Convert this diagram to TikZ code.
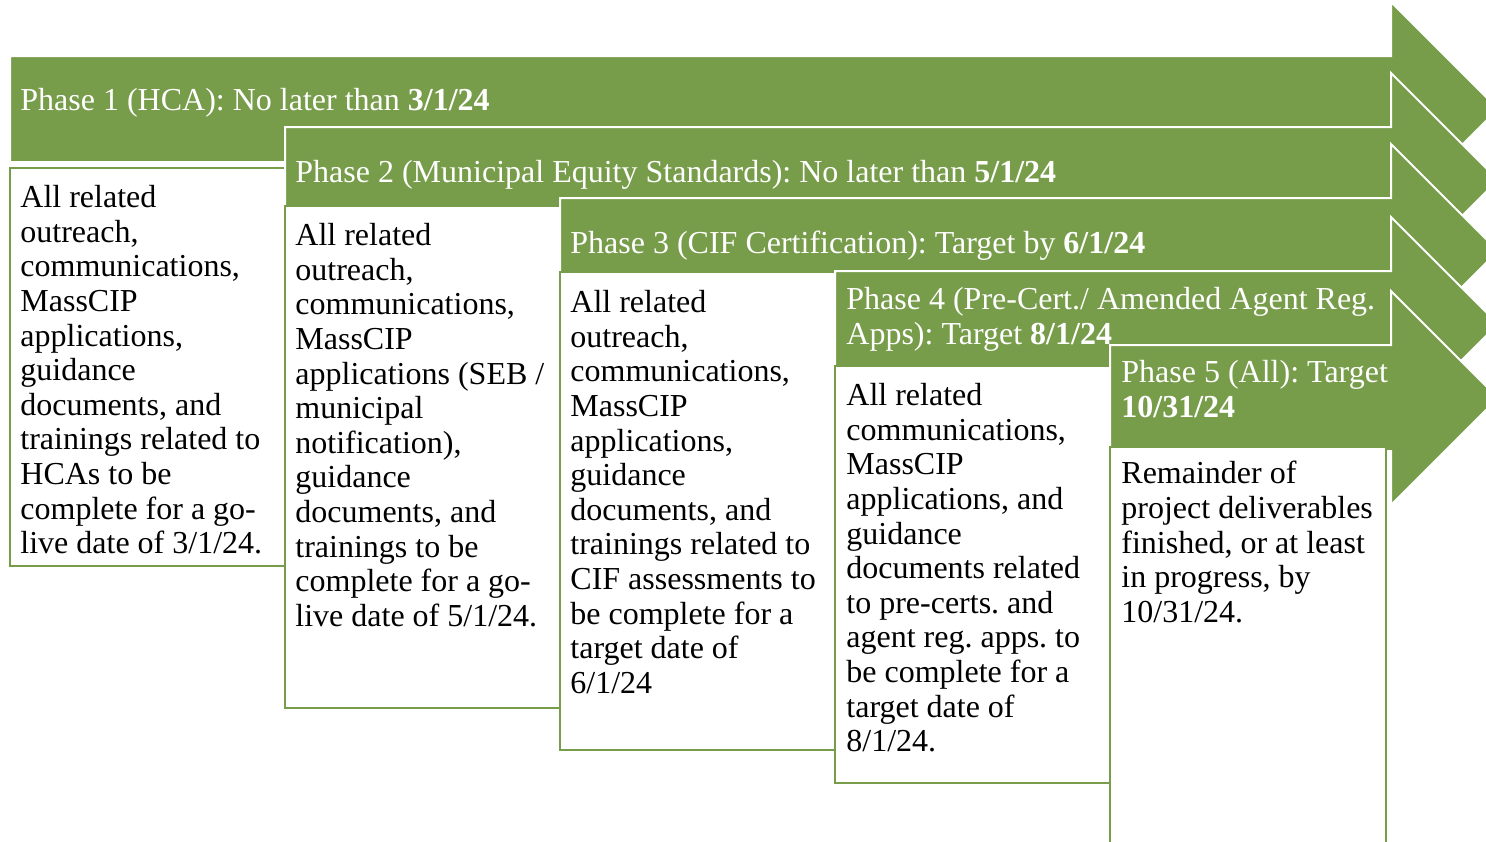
\documentclass[tikz,border=0pt]{standalone}
\usepackage{fontspec}
\setmainfont{Liberation Serif}
\frenchspacing
\definecolor{phasegreen}{RGB}{119,156,74}

\begin{document}
\begin{tikzpicture}[x=0.5pt, y=-0.5pt,
    phasearrow/.style={fill=phasegreen, draw=white, line width=1pt},
    phasebox/.style={fill=white, draw=phasegreen, line width=1.3pt},
    headtext/.style={anchor=north west, inner sep=0pt, align=left, text=white, font=\fontsize{16}{17.3}\selectfont},
    bodytext/.style={anchor=north west, inner sep=0pt, align=left, text=black, font=\fontsize{16}{17.3}\selectfont}]
    \useasboundingbox (0,0) rectangle (1486,841);
    \foreach \lx/\ty/\by/\rx/\bb in {10/56/168/285/566, 285/127/206/560/708, 560/198/272/835/750, 835/271/366/1110/783, 1110/345/447/1386/860} {
        \filldraw[phasearrow] (\lx,\ty) -- (1391,\ty) -- (1391,\ty-54) -- (1498,\ty+53) -- (1391,\ty+160) -- (1391,\ty+106) -- (\lx,\ty+106) -- cycle;
        \filldraw[phasebox] (\lx,\by) rectangle (\rx,\bb);
    }
    \node[headtext] (head1) at (20,88) {Phase 1 (HCA): No later than \textbf{3/1/24}};
    \node[headtext] (head2) at (295,160) {Phase 2 (Municipal Equity Standards): No later than \textbf{5/1/24}};
    \node[headtext] (head3) at (570,231) {Phase 3 (CIF Certification): Target by \textbf{6/1/24}};
    \node[headtext] (head4) at (846,287) {Phase 4 (Pre-Cert./ Amended Agent Reg.\\Apps): Target \textbf{8/1/24}};
    \node[headtext] (head5) at (1121,360) {Phase 5 (All): Target\\\textbf{10/31/24}};
    \node[bodytext] (body1) at (20,185) {All related\\outreach,\\communications,\\MassCIP\\applications,\\guidance\\documents, and\\trainings related to\\HCAs to be\\complete for a go-\\live date of 3/1/24.};
    \node[bodytext] (body2) at (295,223) {All related\\outreach,\\communications,\\MassCIP\\applications (SEB /\\municipal\\notification),\\guidance\\documents, and\\trainings to be\\complete for a go-\\live date of 5/1/24.};
    \node[bodytext] (body3) at (570,290) {All related\\outreach,\\communications,\\MassCIP\\applications,\\guidance\\documents, and\\trainings related to\\CIF assessments to\\be complete for a\\target date of\\6/1/24};
    \node[bodytext] (body4) at (846,383) {All related\\communications,\\MassCIP\\applications, and\\guidance\\documents related\\to pre-certs. and\\agent reg. apps. to\\be complete for a\\target date of\\8/1/24.};
    \node[bodytext] (body5) at (1121,461) {Remainder of\\project deliverables\\finished, or at least\\in progress, by\\10/31/24.};
\end{tikzpicture}
\end{document}
